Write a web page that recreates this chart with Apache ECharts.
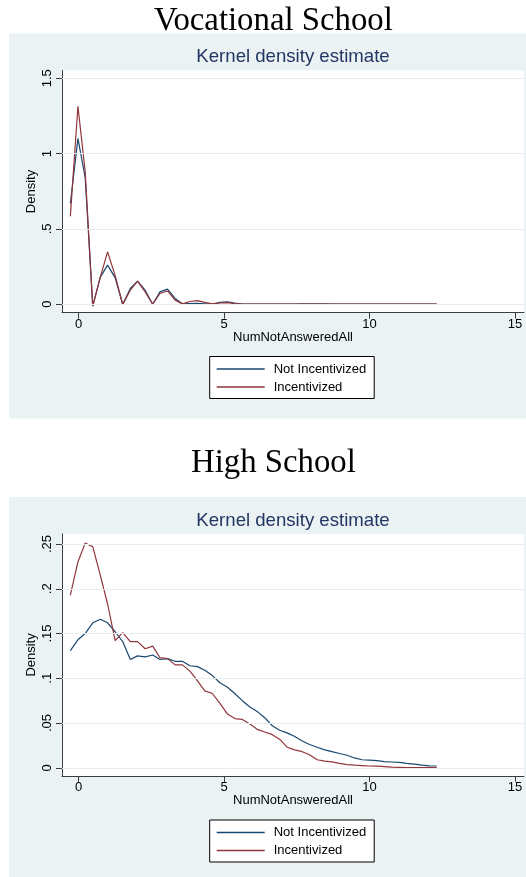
<!DOCTYPE html>
<html><head><meta charset="utf-8">
<script src="https://cdn.jsdelivr.net/npm/echarts@6/dist/echarts.min.js"></script>
<style>html,body{margin:0;padding:0;background:#fff}#c{width:526px;height:877px}</style>
</head><body><div id="c"></div>
<script>
// ---- data ----
const xGrid = [-0.28, -0.02, 0.23, 0.49, 0.75, 1.00, 1.26, 1.52, 1.78, 2.03,
  2.29, 2.55, 2.80, 3.06, 3.32, 3.57, 3.83, 4.09, 4.34, 4.60,
  4.86, 5.12, 5.37, 5.63, 5.89, 6.14, 6.40, 6.66, 6.91, 7.17,
  7.43, 7.69, 7.94, 8.20, 8.46, 8.71, 8.97, 9.23, 9.48, 9.74,
  10.00, 10.26, 10.51, 10.77, 11.03, 11.28, 11.54, 11.80, 12.06, 12.31];

const vocNotInc = [0.668, 1.10, 0.84, -0.013, 0.18, 0.259, 0.175, -0.002, 0.104, 0.153,
  0.093, 0.0, 0.082, 0.10, 0.038, 0.003, 0.004, 0.005, 0.003, 0.001,
  0.012, 0.016, 0.008, 0.001, 0, 0, 0, 0, 0, 0,
  0.001, 0.002, 0.003, 0.003, 0.002, 0, 0, 0, 0, 0,
  0, 0, 0, 0, 0, 0, 0, 0, 0, 0];
const vocInc = [0.584, 1.314, 0.88, -0.013, 0.18, 0.347, 0.19, -0.002, 0.093, 0.153,
  0.082, 0.0, 0.071, 0.088, 0.027, 0.002, 0.018, 0.024, 0.012, 0.002,
  0.008, 0.010, 0.004, 0.001, 0, 0, 0, 0, 0, 0,
  0.001, 0.001, 0.001, 0.001, 0, 0, 0, 0, 0, 0,
  0, 0, 0, 0, 0, 0, 0, 0, 0, 0];

const hsNotInc = [0.131, 0.143, 0.150, 0.162, 0.166, 0.162, 0.152, 0.141, 0.121, 0.125,
  0.124, 0.126, 0.121, 0.122, 0.119, 0.119, 0.114, 0.113, 0.109, 0.103,
  0.095, 0.090, 0.083, 0.075, 0.068, 0.063, 0.056, 0.047, 0.042, 0.039,
  0.035, 0.030, 0.026, 0.023, 0.020, 0.018, 0.016, 0.014, 0.011, 0.009,
  0.0085, 0.008, 0.007, 0.0065, 0.006, 0.005, 0.004, 0.003, 0.0022, 0.002];
const hsInc = [0.193, 0.230, 0.251, 0.247, 0.215, 0.183, 0.142, 0.151, 0.141, 0.141,
  0.133, 0.136, 0.123, 0.122, 0.115, 0.115, 0.108, 0.097, 0.086, 0.083,
  0.072, 0.060, 0.055, 0.054, 0.049, 0.043, 0.040, 0.037, 0.032, 0.023,
  0.020, 0.018, 0.0145, 0.009, 0.0074, 0.0067, 0.005, 0.0035, 0.003, 0.0025,
  0.002, 0.0018, 0.0013, 0.0008, 0.0005, 0.0002, 0.0001, 0.0001, 0.0001, 0.0001];

const xTicks = [0, 5, 10, 15];
const vocYTicks = [0, 0.5, 1, 1.5];
const hsYTicks = [0, 0.05, 0.1, 0.15, 0.2, 0.25];
const seriesNames = ['Not Incentivized', 'Incentivized'];
const panelTitles = ['Vocational School', 'High School'];
const subTitle = 'Kernel density estimate';
const xName = 'NumNotAnsweredAll';
const yName = 'Density';

// ---- styling / layout ----
const SANS = '"Liberation Sans", Arial, Helvetica, sans-serif';
const SERIF = '"Liberation Serif", "Times New Roman", serif';
const BG = '#eaf2f3';
const AX = '#3c3c3c';
const colors = ['#1a476f', '#90353b'];

const panels = [
  {top: 33.5, bottom: 418.6, gridTop: 70.4, gridH: 242.2, titleY: 21, subY: 57, legendTop: 356.5, ymin: -0.0557, ymax: 1.5517, ticks: vocYTicks, d: [vocNotInc, vocInc]},
  {top: 497, bottom: 877, gridTop: 534, gridH: 241.9, titleY: 463.5, subY: 520.5, legendTop: 820, ymin: -0.00905, ymax: 0.2612, ticks: hsYTicks, d: [hsNotInc, hsInc]}
];

const fmt = v => String(v).replace(/^0\./, '.');
const pairs = arr => xGrid.map((x, i) => [x, arr[i]]);

const option = {
  animation: false,
  backgroundColor: '#fff',
  graphic: [],
  grid: [], xAxis: [], yAxis: [], series: [], legend: []
};

panels.forEach((p, i) => {
  option.graphic.push(
    {type: 'rect', z: -10, shape: {x: 9, y: p.top, width: 517, height: p.bottom - p.top}, style: {fill: BG}},
    {type: 'text', x: 273.4, y: p.titleY, style: {text: panelTitles[i], font: '32.8px ' + SERIF, fill: '#000', textAlign: 'center', textVerticalAlign: 'middle'}},
    {type: 'text', x: 293, y: p.subY, style: {text: subTitle, font: '18.6px ' + SANS, fill: '#243663', textAlign: 'center', textVerticalAlign: 'middle'}}
  );
  option.grid.push({left: 62, right: 2, top: p.gridTop, height: p.gridH, show: true, backgroundColor: '#fff', borderWidth: 0});
  option.xAxis.push({
    type: 'value', gridIndex: i, min: -0.567, max: 15.31,
    name: xName, nameLocation: 'middle', nameGap: 18, nameMoveOverlap: false,
    nameTextStyle: {fontFamily: SANS, fontSize: 13, color: '#000'},
    axisLine: {show: true, onZero: false, lineStyle: {color: AX, width: 1}},
    axisTick: {show: true, length: 6, customValues: xTicks, lineStyle: {color: AX}},
    axisLabel: {customValues: xTicks, margin: 5, fontFamily: SANS, fontSize: 13, color: '#000'},
    splitLine: {show: false}
  });
  option.yAxis.push({
    type: 'value', gridIndex: i, min: p.ymin, max: p.ymax,
    name: yName, nameLocation: 'middle', nameGap: 24, nameMoveOverlap: false,
    nameTextStyle: {fontFamily: SANS, fontSize: 13, color: '#000'},
    axisLine: {show: true, onZero: false, lineStyle: {color: AX, width: 1}},
    axisTick: {show: true, length: 6, customValues: p.ticks, lineStyle: {color: AX}},
    axisLabel: {customValues: p.ticks, rotate: 90, margin: 8, formatter: fmt, fontFamily: SANS, fontSize: 13, color: '#000'},
    splitLine: {show: false}
  });
  // gridlines
  option.series.push({
    type: 'line', xAxisIndex: i, yAxisIndex: i, data: [], z: 1, silent: true,
    markLine: {silent: true, symbol: 'none', label: {show: false},
      lineStyle: {color: '#e6eef0', width: 1, type: 'solid'},
      data: p.ticks.map(v => ({yAxis: v}))}
  });
  p.d.forEach((arr, j) => {
    option.series.push({
      name: seriesNames[j], type: 'line', xAxisIndex: i, yAxisIndex: i, z: 3,
      data: pairs(arr), symbol: 'none', showSymbol: false,
      lineStyle: {color: colors[j], width: 1.2}, itemStyle: {color: colors[j]}
    });
  });
  option.legend.push({
    data: seriesNames, orient: 'vertical', left: 209.7, top: p.legendTop,
    icon: 'path://M0,0H48V1.3H0Z',
    itemWidth: 48, itemHeight: 14, itemGap: 5, padding: [6, 8, 5, 7],
    borderColor: '#000', borderWidth: 1, backgroundColor: '#fff',
    textStyle: {fontFamily: SANS, fontSize: 13, color: '#000', padding: [0, 0, 0, 4]},
    selectedMode: false
  });
});

const chart = echarts.init(document.getElementById('c'), null, {renderer: 'canvas'});
chart.setOption(option);
</script>
</body></html>
